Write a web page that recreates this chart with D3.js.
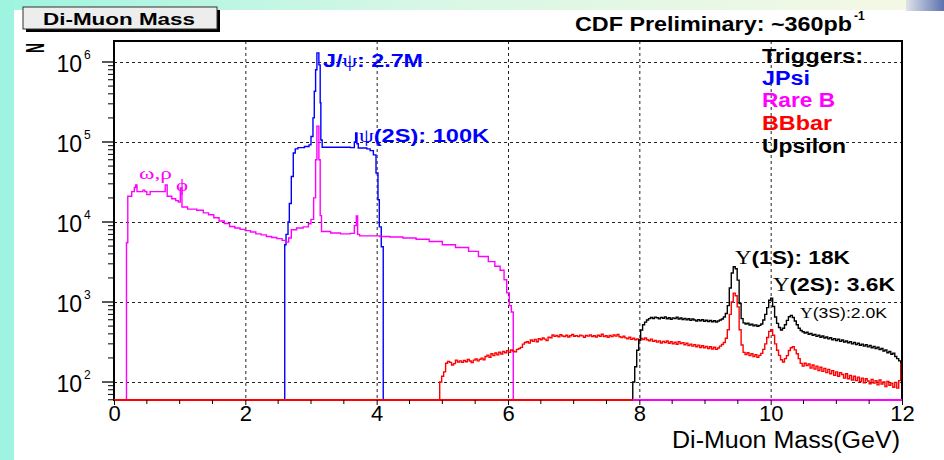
<!DOCTYPE html>
<html><head><meta charset="utf-8">
<script src="https://cdn.jsdelivr.net/npm/d3@7"></script>
<style>html,body{margin:0;padding:0;background:#fff}svg{display:block}</style>
</head><body><svg id="c" width="944" height="460"></svg>
<script>
// ---------------- data ----------------
const xTickValues = [0, 2, 4, 6, 8, 10, 12];
const yDecadeExponents = [2, 3, 4, 5, 6];
const legendLabels = ["Triggers:", "JPsi", "Rare B", "BBbar", "Upsilon"];
const legendColors = ["#000000", "#0000ff", "#ff00ff", "#ff0000", "#000000"];

// [mass (GeV, bin low edge), counts] — step histograms
const jpsi = [[0,0],[2.6,5200],[2.62,7000],[2.65,10000],[2.67,17000],[2.70,37000],[2.73,73000],[2.76,82000],[2.80,85000],[2.90,88000],[2.97,92000],[3.00,117000],[3.03,200000],[3.05,430000],[3.07,800000],[3.09,1300000],[3.12,920000],[3.14,310000],[3.15,106000],[3.17,86000],[3.40,86000],[3.60,85000],[3.66,100000],[3.68,130000],[3.70,95000],[3.72,84000],[3.85,82000],[3.90,78000],[3.95,69000],[3.99,41000],[4.02,19000],[4.04,8700],[4.07,4900],[4.10,0],[12,0]];

const rareB = [[0,0],[0.19,5500],[0.21,21000],[0.27,24000],[0.31,27000],[0.33,29000],[0.35,24000],[0.44,25000],[0.47,24000],[0.50,22000],[0.55,24000],[0.78,29000],[0.81,21000],[0.88,19500],[0.94,18500],[0.98,17700],[1.01,26700],[1.035,15400],[1.12,14500],[1.26,14000],[1.36,13000],[1.44,12300],[1.52,11300],[1.60,10300],[1.68,9600],[1.76,8800],[1.84,8400],[1.92,8100],[2.00,7800],[2.08,7500],[2.16,7100],[2.24,6900],[2.32,6600],[2.40,6400],[2.48,6200],[2.56,5900],[2.62,5600],[2.66,6300],[2.70,8000],[2.78,8400],[2.88,8700],[2.96,9500],[3.00,10800],[3.04,20000],[3.07,60000],[3.09,158000],[3.12,60000],[3.14,12000],[3.16,7600],[3.30,7300],[3.45,7100],[3.60,7200],[3.66,9000],[3.69,11900],[3.71,7000],[3.74,6700],[3.90,6700],[4.05,6600],[4.20,6500],[4.40,6300],[4.60,6100],[4.80,5700],[5.00,5200],[5.20,4800],[5.40,4300],[5.55,3700],[5.70,3200],[5.80,2800],[5.88,2500],[5.94,1900],[5.98,1300],[6.02,900],[6.05,750],[6.08,0],[12,0]];

const bbbar = [[0,0],[4.96,100],[4.99,118],[5.02,134],[5.05,172],[5.08,181],[5.11,176],[5.14,163],[5.17,170],[5.20,188],[5.23,178],[5.26,184],[5.29,176],[5.32,186],[5.35,179],[5.38,191],[5.41,183],[5.44,175],[5.47,188],[5.50,194],[5.53,184],[5.56,192],[5.59,199],[5.62,190],[5.65,208],[5.68,217],[5.71,204],[5.74,226],[5.77,214],[5.80,231],[5.83,219],[5.86,236],[5.89,224],[5.92,241],[5.95,232],[5.98,247],[6.01,235],[6.04,251],[6.07,243],[6.10,238],[6.13,256],[6.16,262],[6.19,271],[6.22,298],[6.25,312],[6.28,319],[6.31,306],[6.34,335],[6.37,322],[6.40,341],[6.43,318],[6.46,349],[6.49,337],[6.52,355],[6.55,344],[6.58,331],[6.61,362],[6.64,358],[6.67,387],[6.70,372],[6.73,381],[6.76,368],[6.79,390],[6.82,376],[6.85,371],[6.88,384],[6.91,366],[6.94,379],[6.97,392],[7.00,374],[7.03,380],[7.06,369],[7.09,386],[7.12,377],[7.15,363],[7.18,382],[7.21,375],[7.24,388],[7.27,370],[7.30,379],[7.33,366],[7.36,384],[7.39,373],[7.42,395],[7.45,371],[7.48,378],[7.51,362],[7.54,381],[7.57,369],[7.60,387],[7.63,375],[7.66,392],[7.69,368],[7.72,359],[7.75,374],[7.78,356],[7.81,348],[7.84,362],[7.87,341],[7.90,352],[7.93,338],[7.96,346],[7.99,333],[8.02,351],[8.05,340],[8.08,355],[8.11,337],[8.14,328],[8.17,344],[8.20,322],[8.23,331],[8.26,315],[8.29,327],[8.32,308],[8.35,322],[8.38,312],[8.41,326],[8.44,305],[8.47,318],[8.50,301],[8.53,314],[8.56,297],[8.59,320],[8.62,303],[8.65,311],[8.68,292],[8.71,305],[8.74,286],[8.77,298],[8.80,281],[8.83,293],[8.86,276],[8.89,289],[8.92,270],[8.95,284],[8.98,268],[9.01,279],[9.04,262],[9.07,276],[9.10,259],[9.13,272],[9.16,256],[9.19,266],[9.22,281],[9.25,294],[9.28,312],[9.31,352],[9.34,450],[9.37,700],[9.40,1000],[9.43,1290],[9.46,1200],[9.49,870],[9.52,450],[9.55,290],[9.58,235],[9.61,221],[9.64,232],[9.67,214],[9.70,226],[9.73,208],[9.76,219],[9.79,203],[9.82,215],[9.85,228],[9.88,256],[9.91,300],[9.94,360],[9.97,430],[10.00,450],[10.03,385],[10.06,300],[10.09,250],[10.12,215],[10.15,190],[10.18,178],[10.21,196],[10.24,214],[10.27,248],[10.30,268],[10.33,277],[10.36,252],[10.39,226],[10.42,196],[10.45,171],[10.48,158],[10.51,172],[10.54,161],[10.57,168],[10.60,149],[10.63,163],[10.66,145],[10.69,158],[10.72,139],[10.75,153],[10.78,136],[10.81,148],[10.84,131],[10.87,144],[10.90,127],[10.93,139],[10.96,121],[10.99,134],[11.02,118],[11.05,131],[11.08,124],[11.11,112],[11.14,127],[11.17,110],[11.20,121],[11.23,106],[11.26,118],[11.29,104],[11.32,115],[11.35,101],[11.38,112],[11.41,98],[11.44,110],[11.47,103],[11.50,95],[11.53,108],[11.56,97],[11.59,104],[11.62,92],[11.65,106],[11.68,94],[11.71,100],[11.74,88],[11.77,102],[11.80,91],[11.83,97],[11.86,86],[11.89,99],[11.92,84],[11.95,104],[11.98,178],[12.0,0]];

const upsilon = [[0,0],[7.90,100],[7.93,155],[7.96,250],[7.99,335],[8.02,447],[8.05,520],[8.08,560],[8.11,596],[8.14,620],[8.17,640],[8.20,622],[8.23,648],[8.26,635],[8.29,615],[8.32,642],[8.35,628],[8.38,652],[8.41,618],[8.44,637],[8.47,610],[8.50,633],[8.53,620],[8.56,645],[8.59,612],[8.62,630],[8.65,604],[8.68,625],[8.71,598],[8.74,618],[8.77,590],[8.80,612],[8.83,596],[8.86,578],[8.89,603],[8.92,584],[8.95,600],[8.98,575],[9.01,592],[9.04,570],[9.07,588],[9.10,566],[9.13,582],[9.16,562],[9.19,578],[9.22,596],[9.25,612],[9.28,650],[9.31,720],[9.34,900],[9.37,1500],[9.40,2300],[9.43,2760],[9.46,2600],[9.49,1880],[9.52,960],[9.55,620],[9.58,548],[9.61,530],[9.64,542],[9.67,515],[9.70,528],[9.73,505],[9.76,518],[9.79,498],[9.82,510],[9.85,530],[9.88,596],[9.91,700],[9.94,850],[9.97,1050],[10.00,1120],[10.03,880],[10.06,650],[10.09,540],[10.12,480],[10.15,447],[10.18,470],[10.21,520],[10.24,590],[10.27,655],[10.30,680],[10.33,640],[10.36,580],[10.39,520],[10.42,470],[10.45,440],[10.48,425],[10.51,410],[10.54,418],[10.57,395],[10.60,405],[10.63,384],[10.66,394],[10.69,372],[10.72,385],[10.75,362],[10.78,376],[10.81,355],[10.84,366],[10.87,346],[10.90,357],[10.93,338],[10.96,349],[10.99,330],[11.02,342],[11.05,322],[11.08,335],[11.11,316],[11.14,326],[11.17,309],[11.20,320],[11.23,300],[11.26,312],[11.29,294],[11.32,305],[11.35,288],[11.38,298],[11.41,281],[11.44,292],[11.47,275],[11.50,286],[11.53,268],[11.56,279],[11.59,262],[11.62,272],[11.65,255],[11.68,262],[11.71,244],[11.74,252],[11.77,232],[11.80,241],[11.83,222],[11.86,230],[11.89,208],[11.92,196],[11.95,184],[11.98,175],[12.0,175]];

// zero-count baseline colours along the x axis: [from, to, legend index]
const baselineSegments = [[0, 7.9, 3], [7.9, 12, 2]];

// ---------------- drawing ----------------
const svg = d3.select("#c");
const L = 114, R = 902, T = 41, B = 400;
const yMin = 59.6, yMax = 1.83e6;
const x = d3.scaleLinear().domain([0, 12]).range([L, R]);
const y = d3.scaleLog().domain([yMin, yMax]).range([B, T]);
const SANS = "'Liberation Sans', Arial, Helvetica, sans-serif";
const SERIF = "'Liberation Serif', 'Times New Roman', serif";

// background (slide)
const defs = svg.append("defs");
const gTop = defs.append("linearGradient").attr("id", "gTop").attr("x1", 0).attr("x2", 1).attr("y1", 0).attr("y2", 0);
gTop.append("stop").attr("offset", 0).attr("stop-color", "#9ef4e0");
gTop.append("stop").attr("offset", 0.45).attr("stop-color", "#d8f7e6");
gTop.append("stop").attr("offset", 1).attr("stop-color", "#f6f8e4");
const gBlk = defs.append("linearGradient").attr("id", "gBlk").attr("x1", 0).attr("x2", 1);
gBlk.append("stop").attr("offset", 0).attr("stop-color", "#dfe3e8");
gBlk.append("stop").attr("offset", 1).attr("stop-color", "#5d72b0");
defs.append("clipPath").attr("id", "plotClip").append("rect").attr("x", L).attr("y", T).attr("width", R - L).attr("height", B - T);

svg.append("rect").attr("width", 944).attr("height", 460).attr("fill", "#ffffff");
svg.append("rect").attr("x", 0).attr("y", 0).attr("width", 944).attr("height", 10).attr("fill", "url(#gTop)");
svg.append("rect").attr("x", 0).attr("y", 0).attr("width", 14).attr("height", 460).attr("fill", "#9ef4e0");
svg.append("rect").attr("x", 906).attr("y", 0).attr("width", 38).attr("height", 11).attr("fill", "url(#gBlk)");

// grid
const grid = svg.append("g").attr("stroke", "#222").attr("stroke-width", 1).attr("stroke-dasharray", "3,3");
grid.selectAll("line.v").data(xTickValues.filter(v => v > 0 && v < 12)).join("line")
  .attr("x1", d => x(d) + 0.5).attr("x2", d => x(d) + 0.5).attr("y1", T).attr("y2", B);
grid.selectAll("line.h").data(yDecadeExponents).join("line")
  .attr("x1", L).attr("x2", R).attr("y1", d => Math.round(y(Math.pow(10, d))) + 0.5).attr("y2", d => Math.round(y(Math.pow(10, d))) + 0.5);

// histograms
const line = d3.line().curve(d3.curveStepAfter)
  .x(d => x(d[0])).y(d => y(Math.max(d[1], yMin)));
const plot = svg.append("g").attr("clip-path", "url(#plotClip)");
const series = [[jpsi, 1], [rareB, 2], [bbbar, 3], [upsilon, 4]];
series.forEach(([data, ci]) => {
  plot.append("path").attr("d", line(data)).attr("fill", "none")
    .attr("stroke", legendColors[ci]).attr("stroke-width", 1.4).attr("stroke-linejoin", "miter");
});

// frame
svg.append("rect").attr("x", L).attr("y", T).attr("width", R - L).attr("height", B - T)
  .attr("fill", "none").attr("stroke", "#000").attr("stroke-width", 2);

// baseline colour segments
svg.selectAll("line.base").data(baselineSegments).join("line")
  .attr("x1", d => x(d[0])).attr("x2", d => x(d[1])).attr("y1", B).attr("y2", B)
  .attr("stroke", d => legendColors[d[2]]).attr("stroke-width", 2.2);

// x axis ticks and labels
const xAxis = d3.axisBottom(x).tickValues(xTickValues).tickSize(5).tickPadding(0).tickFormat(d3.format("d"));
const xg = svg.append("g").attr("transform", `translate(0,${B})`).call(xAxis);
xg.select(".domain").remove();
xg.selectAll("text").attr("font-family", SANS).attr("font-size", 22).attr("fill", "#000");
xg.selectAll("line").attr("stroke", "#000");
const xMinor = d3.range(0, 24).map(i => i * 0.5).filter(v => v % 2 !== 0);
svg.append("g").selectAll("line").data(xMinor).join("line")
  .attr("x1", d => x(d)).attr("x2", d => x(d)).attr("y1", B).attr("y2", B + 4)
  .attr("stroke", "#000");

// y axis ticks (log)
const yMinor = [];
for (let e = 1; e <= 6; e++) for (let m = 2; m <= 9; m++) { const v = m * Math.pow(10, e); if (v >= yMin && v <= yMax) yMinor.push(v); }
svg.append("g").selectAll("line").data(yMinor).join("line")
  .attr("x1", L - 6).attr("x2", L).attr("y1", d => y(d)).attr("y2", d => y(d)).attr("stroke", "#000");
svg.append("g").selectAll("line").data(yDecadeExponents).join("line")
  .attr("x1", L - 12).attr("x2", L).attr("y1", d => y(Math.pow(10, d))).attr("y2", d => y(Math.pow(10, d))).attr("stroke", "#000").attr("stroke-width", 1.3);
const ylab = svg.append("g").selectAll("g").data(yDecadeExponents).join("g");
ylab.append("text").attr("x", 82).attr("y", d => y(Math.pow(10, d)) + 10)
  .attr("text-anchor", "end").attr("font-family", SANS).attr("font-size", 23).text("10");
ylab.append("text").attr("x", 84).attr("y", d => y(Math.pow(10, d)) - 3)
  .attr("font-family", SANS).attr("font-size", 12).text(d => d);

// axis titles
svg.append("text").attr("transform", "translate(44,53) rotate(-90) scale(0.8,1.5)")
  .attr("font-family", SANS).attr("font-weight", "900").attr("font-size", 17).text("N");
svg.append("text").attr("x", 900).attr("y", 448).attr("text-anchor", "end")
  .attr("font-family", SANS).attr("font-size", 23)
  .attr("textLength", 228).attr("lengthAdjust", "spacingAndGlyphs").text("Di-Muon Mass(GeV)");

// title box
svg.append("rect").attr("x", 26).attr("y", 10).attr("width", 194).attr("height", 22).attr("fill", "#000");
svg.append("rect").attr("x", 23).attr("y", 7).attr("width", 194).attr("height", 22).attr("fill", "#ededed").attr("stroke", "#333").attr("stroke-width", 1);
svg.append("text").attr("x", 43).attr("y", 25).attr("font-family", SANS).attr("font-weight", "bold")
  .attr("font-size", 17).attr("textLength", 152).attr("lengthAdjust", "spacingAndGlyphs").text("Di-Muon Mass");

// CDF label
svg.append("text").attr("x", 575).attr("y", 31).attr("font-family", SANS).attr("font-weight", "bold")
  .attr("font-size", 20).attr("textLength", 277).attr("lengthAdjust", "spacingAndGlyphs").text("CDF Preliminary: ~360pb");
svg.append("text").attr("x", 854).attr("y", 20).attr("font-family", SANS).attr("font-weight", "bold")
  .attr("font-size", 12).text("-1");

// legend
const legendBaselines = [63, 85, 107, 130, 153];
const legendLengths = [101, 48, 73, 70, 84];
svg.append("g").selectAll("text").data(legendLabels).join("text")
  .attr("x", 762).attr("y", (d, i) => legendBaselines[i])
  .attr("font-family", SANS).attr("font-weight", "bold").attr("font-size", 20)
  .attr("textLength", (d, i) => legendLengths[i]).attr("lengthAdjust", "spacingAndGlyphs")
  .attr("fill", (d, i) => legendColors[i]).text(d => d);

// annotations
function label(xp, yp, parts, size, color, len, weight) {
  const t = svg.append("text").attr("x", xp).attr("y", yp).attr("font-size", size).attr("fill", color)
    .attr("font-family", SANS).attr("font-weight", weight || "bold");
  if (len) t.attr("textLength", len).attr("lengthAdjust", "spacingAndGlyphs");
  parts.forEach(p => {
    const s = t.append("tspan").text(p[0]);
    if (p[1]) s.attr("font-family", SERIF).attr("font-weight", "normal");
  });
  return t;
}
label(323, 67, [["J/"], ["ψ", 1], [": 2.7M"]], 18, "#0000ff", 100);
label(359, 142, [["ψ", 1], ["(2S): 100K"]], 18, "#0000ff", 130);
label(139, 179, [["ω,ρ", 1]], 17, "#ff00ff", 33, "normal");
label(176, 191, [["ϕ", 1]], 17, "#ff00ff", 12, "normal");
label(735, 264, [["Υ", 1], ["(1S): 18K"]], 18, "#000", 115);
label(773, 291, [["Υ", 1], ["(2S): 3.6K"]], 18, "#000", 122);
label(800, 318, [["Υ", 1], ["(3S):2.0K"]], 14, "#000", 87, "normal");
</script></body></html>
